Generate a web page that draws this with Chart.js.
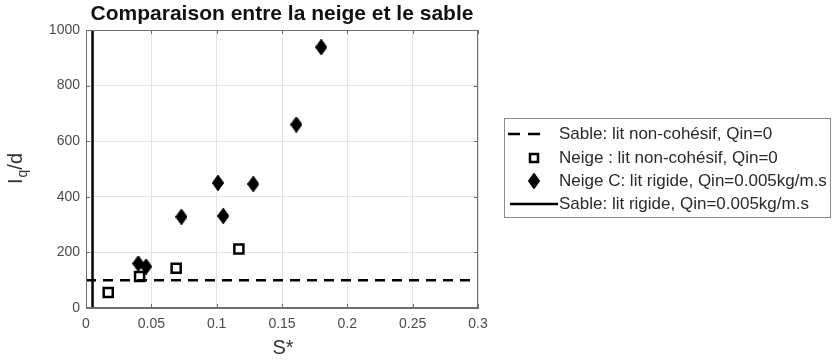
<!DOCTYPE html>
<html>
<head>
<meta charset="utf-8">
<script src="https://cdn.jsdelivr.net/npm/chart.js"></script>
<style>
  html, body { margin: 0; padding: 0; background: #fff; }
  #wrap { width: 832px; height: 360px; }
</style>
</head>
<body>
<div id="wrap"><canvas id="chart" width="832" height="360"></canvas></div>
<script>
// data
const sableX = [0, 0.3];            // Sable: lit non-cohésif (horizontal line)
const sableY = [100, 100];
const neigeS = [0.017, 0.041, 0.069, 0.117];   // Neige : lit non-cohésif
const neigeL = [56, 113, 143, 212];
const neigeCS = [0.040, 0.046, 0.073, 0.101, 0.105, 0.128, 0.161, 0.180];  // Neige C
const neigeCL = [160, 149, 328, 450, 331, 446, 660, 938];
const rigideS = [0.005, 0.005];     // Sable: lit rigide (vertical line)
const rigideL = [0, 1000];

const xTicks = [0, 0.05, 0.1, 0.15, 0.2, 0.25, 0.3];
const yTicks = [0, 200, 400, 600, 800, 1000];

const legendLabels = [
    'Sable: lit non-cohésif, Qin=0',
    'Neige : lit non-cohésif, Qin=0',
    'Neige C: lit rigide, Qin=0.005kg/m.s',
    'Sable: lit rigide, Qin=0.005kg/m.s'
];
const titleText = 'Comparaison entre la neige et le sable';

const FONT = '"Liberation Sans", Arial, Helvetica, sans-serif';
const AXIS = '#6e6e6e';

function pts(xs, ys) {
    return xs.map((x, i) => ({ x: x, y: ys[i] }));
}

// MATLAB style diamond (taller than wide)
function diamondImg(w, h) {
    const c = document.createElement('canvas');
    c.width = w; c.height = h;
    const g = c.getContext('2d');
    g.fillStyle = '#000';
    g.strokeStyle = '#000';
    g.lineWidth = 1.5;
    g.beginPath();
    g.moveTo(w / 2, 0.75);
    g.lineTo(w - 0.75, h / 2);
    g.lineTo(w / 2, h - 0.75);
    g.lineTo(0.75, h / 2);
    g.closePath();
    g.fill();
    g.stroke();
    return c;
}
const diamond = diamondImg(12, 16);

// title, axis labels, inner ticks, box and legend
const decor = {
    id: 'decor',
    afterDraw(chart) {
        const ctx = chart.ctx;
        const a = chart.chartArea;
        const sx = chart.scales.x, sy = chart.scales.y;
        ctx.save();

        // box
        ctx.strokeStyle = AXIS;
        ctx.lineWidth = 1;
        ctx.strokeRect(a.left + 0.5, a.top + 0.5, a.right - a.left - 1, a.bottom - a.top - 1);

        // inner ticks
        ctx.beginPath();
        xTicks.forEach(t => {
            const px = Math.round(sx.getPixelForValue(t)) + 0.5;
            ctx.moveTo(px, a.bottom); ctx.lineTo(px, a.bottom - 4);
            ctx.moveTo(px, a.top); ctx.lineTo(px, a.top + 4);
        });
        yTicks.forEach(t => {
            const py = Math.round(sy.getPixelForValue(t)) + 0.5;
            ctx.moveTo(a.left, py); ctx.lineTo(a.left + 4, py);
            ctx.moveTo(a.right, py); ctx.lineTo(a.right - 4, py);
        });
        ctx.stroke();

        // title
        ctx.fillStyle = '#111';
        ctx.font = 'bold 21px ' + FONT;
        ctx.textAlign = 'center';
        ctx.textBaseline = 'middle';
        ctx.fillText(titleText, (a.left + a.right) / 2, 14);

        // x label
        ctx.fillStyle = '#333';
        ctx.font = '20px ' + FONT;
        ctx.fillText('S*', (a.left + a.right) / 2 + 1, 348);

        // y label: I_q/d rotated
        ctx.translate(22, (a.top + a.bottom) / 2);
        ctx.rotate(-Math.PI / 2);
        ctx.textAlign = 'left';
        ctx.textBaseline = 'alphabetic';
        ctx.font = '20px ' + FONT;
        const wI = ctx.measureText('I').width;
        ctx.font = '14px ' + FONT;
        const wQ = ctx.measureText('q').width;
        ctx.font = '20px ' + FONT;
        const wD = ctx.measureText('/d').width;
        let x0 = -(wI + wQ + wD) / 2;
        ctx.fillText('I', x0, 0);
        ctx.font = '14px ' + FONT;
        ctx.fillText('q', x0 + wI + 1, 5);
        ctx.font = '20px ' + FONT;
        ctx.fillText('/d', x0 + wI + wQ + 1, 0);
        ctx.setTransform(1, 0, 0, 1, 0, 0);

        // legend
        const lx = 504, ly = 118, lw = 327, lh = 100;
        ctx.fillStyle = '#fff';
        ctx.fillRect(lx, ly, lw, lh);
        ctx.strokeStyle = '#8a8a8a';
        ctx.lineWidth = 1;
        ctx.strokeRect(lx + 0.5, ly + 0.5, lw - 1, lh - 1);
        const rows = [134, 158, 181, 204];
        ctx.font = '17px ' + FONT;
        ctx.textAlign = 'left';
        ctx.textBaseline = 'middle';
        ctx.fillStyle = '#2a2a2a';
        legendLabels.forEach((t, i) => ctx.fillText(t, 559, rows[i]));
        ctx.strokeStyle = '#000';
        ctx.lineWidth = 2.5;
        ctx.setLineDash([12, 8]);
        ctx.beginPath(); ctx.moveTo(508, rows[0]); ctx.lineTo(548, rows[0]); ctx.stroke();
        ctx.setLineDash([]);
        ctx.strokeRect(530, rows[1] - 4, 8, 8);
        ctx.drawImage(diamond, 534 - 6, rows[2] - 8);
        ctx.beginPath(); ctx.moveTo(510, rows[3]); ctx.lineTo(558, rows[3]); ctx.stroke();

        ctx.restore();
    }
};

new Chart(document.getElementById('chart'), {
    type: 'scatter',
    data: {
        datasets: [
            {
                label: legendLabels[0],
                data: pts(sableX, sableY),
                showLine: true,
                borderColor: '#000',
                borderWidth: 2.5,
                borderDash: [10, 7],
                pointRadius: 0
            },
            {
                label: legendLabels[1],
                data: pts(neigeS, neigeL),
                pointStyle: 'rect',
                pointRadius: 6.4,
                pointBorderWidth: 2.5,
                borderColor: '#000',
                backgroundColor: '#fff'
            },
            {
                label: legendLabels[2],
                data: pts(neigeCS, neigeCL),
                pointStyle: diamond,
                pointRadius: 8
            },
            {
                label: legendLabels[3],
                data: pts(rigideS, rigideL),
                showLine: true,
                borderColor: '#000',
                borderWidth: 2.5,
                pointRadius: 0
            }
        ]
    },
    options: {
        responsive: false,
        animation: false,
        events: [],
        layout: { padding: { left: 0, top: 30, right: 354, bottom: 0 } },
        plugins: {
            legend: { display: false },
            title: { display: false },
            tooltip: { enabled: false }
        },
        scales: {
            x: {
                type: 'linear',
                min: 0,
                max: 0.3,
                afterFit(s) { s.height = 52; },
                afterBuildTicks(s) { s.ticks = xTicks.map(v => ({ value: v })); },
                grid: { color: '#e3e3e3', drawTicks: false },
                border: { color: AXIS },
                ticks: {
                    padding: 8,
                    color: '#4a4a4a',
                    font: { family: FONT, size: 14 },
                    callback: v => String(parseFloat(v.toFixed(2)))
                }
            },
            y: {
                type: 'linear',
                min: 0,
                max: 1000,
                afterFit(s) { s.width = 86; },
                afterBuildTicks(s) { s.ticks = yTicks.map(v => ({ value: v })); },
                grid: { color: '#e3e3e3', drawTicks: false },
                border: { color: AXIS },
                ticks: {
                    padding: 6,
                    color: '#4a4a4a',
                    font: { family: FONT, size: 14 },
                    callback: v => String(v)
                }
            }
        }
    },
    plugins: [decor]
});
</script>
</body>
</html>
